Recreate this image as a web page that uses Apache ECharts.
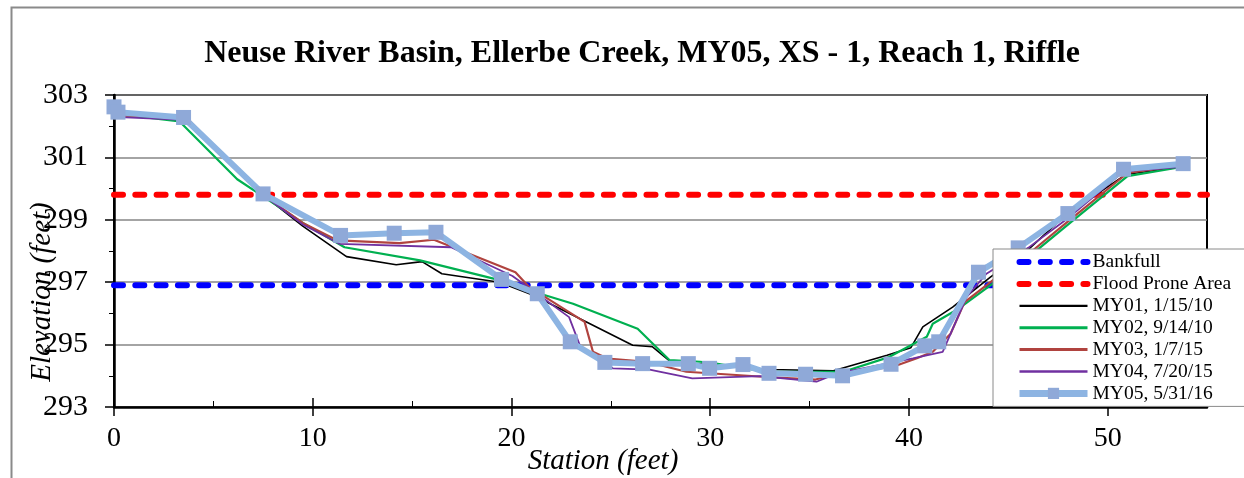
<!DOCTYPE html>
<html>
<head>
<meta charset="UTF-8"/>
<title>Ellerbe Creek XS-1</title>
<script src="https://cdn.jsdelivr.net/npm/echarts@6/dist/echarts.min.js"></script>
<style>
html,body{margin:0;padding:0;background:#fff;}
#main{width:1244px;height:478px;}
</style>
<script type="text/javascript">
// survey data
var bankfull = 296.9;
var floodProne = 299.8;
var stationMax = 55;

var staMY01 = [0, 3.5, 7.5, 9.5, 11.7, 14.2, 15.5, 16.5, 19.4, 21.1, 23.6, 26.1, 27.1, 28.0, 30.0, 33.0, 36.2, 38.9, 40.1, 40.7, 42.2, 44.1, 46.1, 47.8, 50.9, 53.8];
var elvMY01 = [302.4, 302.25, 299.8, 298.8, 297.82, 297.56, 297.66, 297.27, 297.0, 296.58, 295.78, 294.98, 294.93, 294.45, 294.35, 294.2, 294.16, 294.66, 294.9, 295.57, 296.2, 297.16, 298.1, 299.1, 300.45, 300.7];

var staMY02 = [0, 3.3, 6.2, 7.5, 9.5, 11.6, 15.4, 19.2, 21.2, 23.1, 26.35, 27.96, 29.5, 30.3, 32.8, 36.7, 39.0, 40.9, 41.2, 42.5, 44.2, 46.2, 48.2, 51.0, 53.8];
var elvMY02 = [302.4, 302.15, 300.3, 299.75, 298.9, 298.12, 297.7, 297.1, 296.68, 296.31, 295.51, 294.5, 294.45, 294.39, 294.13, 294.13, 294.6, 295.25, 295.67, 296.15, 296.95, 297.9, 298.95, 300.4, 300.7];

var staMY03 = [0, 3.6, 7.5, 9.5, 11.25, 14.36, 16.1, 20.2, 20.9, 23.68, 24.1, 24.85, 26.8, 28.8, 32.66, 35.3, 36.35, 39.2, 40.4, 41.2, 42.1, 42.8, 44.3, 46.2, 48.1, 51.0, 53.8];
var elvMY03 = [302.35, 302.3, 299.8, 298.9, 298.34, 298.25, 298.36, 297.32, 296.84, 295.73, 294.77, 294.55, 294.45, 294.13, 293.97, 293.88, 294.05, 294.29, 294.56, 294.77, 295.35, 296.36, 297.1, 298.0, 299.0, 300.5, 300.75];

var staMY04 = [0, 3.5, 7.5, 9.5, 11.34, 16.96, 20.05, 20.7, 22.9, 23.5, 25.1, 26.95, 29.1, 32.5, 35.35, 36.35, 40.2, 41.7, 42.9, 43.9, 46.0, 48.0, 50.8, 53.8];
var elvMY04 = [302.3, 302.2, 299.8, 298.85, 298.23, 298.12, 297.2, 296.9, 295.88, 294.88, 294.24, 294.2, 293.92, 293.99, 293.81, 294.07, 294.56, 294.77, 296.52, 297.27, 298.1, 299.05, 300.55, 300.7];

var staMY05 = [0, 0.2, 3.5, 7.5, 11.4, 14.1, 16.2, 19.5, 21.3, 22.96, 24.7, 26.6, 28.9, 29.97, 31.65, 32.96, 34.8, 36.66, 39.1, 40.8, 41.5, 43.5, 45.5, 48.0, 50.8, 53.8];
var elvMY05 = [302.62, 302.45, 302.28, 299.83, 298.5, 298.57, 298.6, 297.09, 296.63, 295.09, 294.43, 294.39, 294.39, 294.24, 294.36, 294.08, 294.05, 294.0, 294.37, 294.96, 295.09, 297.32, 298.1, 299.2, 300.62, 300.8];

function zip(xs, ys){
	var out = [];
	for (var i = 0; i < xs.length; i++) out.push([xs[i], ys[i]]);
	return out;
}
</script>
</head>
<body>
<div id="main"></div>
<script type="text/javascript">
var serif = 'Liberation Serif, Times New Roman, serif';
var myChart = echarts.init(document.getElementById('main'), null, {renderer: 'canvas'});

var dash = [9, 12.3];
var noDot = {opacity: 0};

var option = {
	animation: false,
	backgroundColor: '#fff',
	title: {
		text: 'Neuse River Basin, Ellerbe Creek, MY05, XS - 1, Reach 1, Riffle',
		left: 637,
		top: 33,
		textAlign: 'center',
		textStyle: {fontFamily: serif, fontWeight: 'bold', fontSize: 32, color: '#000'}
	},
	grid: {
		left: 114, right: 37, top: 95, bottom: 71,
		show: true, borderColor: '#000', borderWidth: 2, backgroundColor: 'transparent'
	},
	legend: {
		orient: 'vertical',
		left: 993, top: 249,
		padding: [3, 20, 3, 23],
		itemWidth: 68, itemHeight: 14, itemGap: 1.9,
		backgroundColor: '#fff', borderColor: '#8a8a8a', borderWidth: 1, borderRadius: 0,
		textStyle: {fontFamily: serif, fontSize: 19.5, color: '#000'},
		data: [
			{name: 'Bankfull', itemStyle: noDot, lineStyle: {color: '#0000ff', width: 6, type: dash, cap: 'round'}},
			{name: 'Flood Prone Area', itemStyle: noDot, lineStyle: {color: '#ff0000', width: 6, type: dash, cap: 'round'}},
			{name: 'MY01, 1/15/10', itemStyle: noDot, lineStyle: {color: '#000000', width: 2.2}},
			{name: 'MY02, 9/14/10', itemStyle: noDot, lineStyle: {color: '#00b050', width: 3}},
			{name: 'MY03, 1/7/15', itemStyle: noDot, lineStyle: {color: '#b0433f', width: 3}},
			{name: 'MY04, 7/20/15', itemStyle: noDot, lineStyle: {color: '#7030a0', width: 2.4}},
			{name: 'MY05, 5/31/16', lineStyle: {color: '#8db4e2', width: 7}}
		]
	},
	xAxis: [
		{
			type: 'value', min: 0, max: stationMax, interval: 10,
			axisLine: {show: true, onZero: false, lineStyle: {color: '#000', width: 2.5}},
			axisTick: {show: true, inside: false, length: 9, lineStyle: {color: '#000', width: 1.5}},
			axisLabel: {margin: 18, fontFamily: serif, fontSize: 28, color: '#000',
				showMaxLabel: false},
			splitLine: {show: false}
		},
		{
			type: 'value', min: 0, max: stationMax, interval: 10, position: 'bottom',
			axisLine: {show: false},
			axisTick: {show: true, inside: true, length: 9, lineStyle: {color: '#000', width: 1.5}},
			minorTick: {show: true, splitNumber: 2, length: 6, lineStyle: {color: '#000', width: 1}},
			axisLabel: {show: false},
			splitLine: {show: false}
		}
	],
	yAxis: {
		type: 'value', min: 293, max: 303, interval: 2,
		axisLine: {show: true, lineStyle: {color: '#000', width: 2.5}},
		axisTick: {show: true, inside: false, length: 9, lineStyle: {color: '#000', width: 1.5}},
		minorTick: {show: true, splitNumber: 2, length: 5, lineStyle: {color: '#000', width: 1}},
		axisLabel: {margin: 26, fontFamily: serif, fontSize: 30, color: '#000'},
		splitLine: {show: true, lineStyle: {color: '#868686', width: 1.5}}
	},
	graphic: [
		{type: 'rect', left: 9, top: 5, z: -10, silent: true,
			shape: {width: 1300, height: 600},
			style: {fill: null, stroke: '#8a8a8a', lineWidth: 2}},
		{type: 'text', x: 42, y: 292, rotation: Math.PI / 2, z: 10,
			style: {text: 'Elevation (feet)', fontFamily: serif, fontStyle: 'italic', fontSize: 29,
				fill: '#000', align: 'center', verticalAlign: 'middle'}},
		{type: 'text', x: 603, y: 461, z: 10,
			style: {text: 'Station (feet)', fontFamily: serif, fontStyle: 'italic', fontSize: 29,
				fill: '#000', align: 'center', verticalAlign: 'middle'}}
	],
	series: [
		{
			name: 'Bankfull', type: 'line', symbol: 'none',
			data: [[0, bankfull], [stationMax, bankfull]],
			lineStyle: {color: '#0000ff', width: 6, type: dash, cap: 'round'},
			itemStyle: {color: '#0000ff'}
		},
		{
			name: 'Flood Prone Area', type: 'line', symbol: 'none',
			data: [[0, floodProne], [stationMax, floodProne]],
			lineStyle: {color: '#ff0000', width: 6, type: dash, cap: 'round'},
			itemStyle: {color: '#ff0000'}
		},
		{
			name: 'MY01, 1/15/10', type: 'line', symbol: 'none',
			data: zip(staMY01, elvMY01),
			lineStyle: {color: '#000000', width: 1.6},
			itemStyle: {color: '#000000'}
		},
		{
			name: 'MY02, 9/14/10', type: 'line', symbol: 'none',
			data: zip(staMY02, elvMY02),
			lineStyle: {color: '#00b050', width: 2.2},
			itemStyle: {color: '#00b050'}
		},
		{
			name: 'MY03, 1/7/15', type: 'line', symbol: 'none',
			data: zip(staMY03, elvMY03),
			lineStyle: {color: '#b0433f', width: 2.2},
			itemStyle: {color: '#b0433f'}
		},
		{
			name: 'MY04, 7/20/15', type: 'line', symbol: 'none',
			data: zip(staMY04, elvMY04),
			lineStyle: {color: '#7030a0', width: 1.8},
			itemStyle: {color: '#7030a0'}
		},
		{
			name: 'MY05, 5/31/16', type: 'line', symbol: 'rect', symbolSize: 15,
			data: zip(staMY05, elvMY05),
			lineStyle: {color: '#8db4e2', width: 6},
			itemStyle: {color: '#8fa9d8', borderColor: '#8fa9d8', borderWidth: 0}
		}
	]
};
myChart.setOption(option);
</script>
</body>
</html>
